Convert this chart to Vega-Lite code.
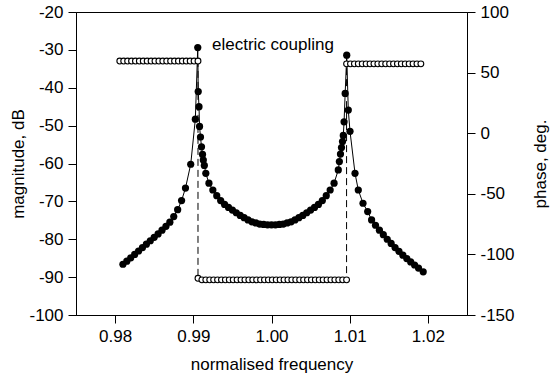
{
  "$schema": "https://vega.github.io/schema/vega-lite/v6.json",
  "width": 391,
  "height": 303,
  "autosize": {"type": "none"},
  "padding": {"left": 76, "top": 12, "right": 87, "bottom": 60},
  "background": "white",
  "config": {
    "view": {"stroke": "black", "strokeWidth": 1},
    "font": "Liberation Sans",
    "axis": {
      "domainColor": "black", "tickColor": "black", "labelColor": "black", "titleColor": "black",
      "labelFont": "Liberation Sans", "titleFont": "Liberation Sans",
      "labelFontSize": 17, "titleFontSize": 17, "titleFontWeight": "normal",
      "tickSize": 8, "grid": false, "labelPadding": 5
    }
  },
  "datasets": {
    "mag": [
      {"f": 0.9810, "mag": -86.6}, {"f": 0.9815, "mag": -85.8}, {"f": 0.9820, "mag": -84.9}, {"f": 0.9825, "mag": -84.0},
      {"f": 0.9830, "mag": -83.1}, {"f": 0.9835, "mag": -82.2}, {"f": 0.9840, "mag": -81.3}, {"f": 0.9845, "mag": -80.4},
      {"f": 0.9850, "mag": -79.5}, {"f": 0.9855, "mag": -78.6}, {"f": 0.9860, "mag": -77.6}, {"f": 0.9865, "mag": -76.6},
      {"f": 0.9870, "mag": -75.5}, {"f": 0.9875, "mag": -74.0}, {"f": 0.9880, "mag": -72.2}, {"f": 0.9885, "mag": -69.8},
      {"f": 0.9890, "mag": -66.5}, {"f": 0.98967, "mag": -60.2}, {"f": 0.99026, "mag": -48.3}, {"f": 0.99057, "mag": -29.4},
      {"f": 0.99063, "mag": -41.0}, {"f": 0.99073, "mag": -45.0}, {"f": 0.9908, "mag": -50.2}, {"f": 0.99092, "mag": -53.0},
      {"f": 0.99105, "mag": -55.6}, {"f": 0.99118, "mag": -57.6}, {"f": 0.99128, "mag": -59.1}, {"f": 0.99141, "mag": -60.5},
      {"f": 0.9916, "mag": -62.6}, {"f": 0.9920, "mag": -65.2}, {"f": 0.9925, "mag": -67.0}, {"f": 0.9930, "mag": -68.5},
      {"f": 0.9935, "mag": -69.8}, {"f": 0.9940, "mag": -70.8}, {"f": 0.9945, "mag": -71.6}, {"f": 0.9950, "mag": -72.3},
      {"f": 0.9955, "mag": -73.0}, {"f": 0.9960, "mag": -73.7}, {"f": 0.9965, "mag": -74.3}, {"f": 0.9970, "mag": -74.9},
      {"f": 0.9975, "mag": -75.4}, {"f": 0.9980, "mag": -75.7}, {"f": 0.9985, "mag": -76.0}, {"f": 0.9990, "mag": -76.1},
      {"f": 0.9995, "mag": -76.2}, {"f": 1.0000, "mag": -76.2}, {"f": 1.0005, "mag": -76.2}, {"f": 1.0010, "mag": -76.1},
      {"f": 1.0015, "mag": -76.0}, {"f": 1.0020, "mag": -75.7}, {"f": 1.0025, "mag": -75.4}, {"f": 1.0030, "mag": -74.9},
      {"f": 1.0035, "mag": -74.3}, {"f": 1.0040, "mag": -73.7}, {"f": 1.0045, "mag": -73.0}, {"f": 1.0050, "mag": -72.3},
      {"f": 1.0055, "mag": -71.6}, {"f": 1.0060, "mag": -70.8}, {"f": 1.0065, "mag": -69.8}, {"f": 1.0070, "mag": -68.5},
      {"f": 1.0075, "mag": -67.0}, {"f": 1.0080, "mag": -65.2}, {"f": 1.00854, "mag": -61.7}, {"f": 1.00868, "mag": -59.5},
      {"f": 1.00882, "mag": -57.5}, {"f": 1.00895, "mag": -55.8}, {"f": 1.00908, "mag": -54.2}, {"f": 1.00918, "mag": -52.6},
      {"f": 1.00928, "mag": -49.0}, {"f": 1.00942, "mag": -41.5}, {"f": 1.00962, "mag": -31.4}, {"f": 1.00982, "mag": -45.9},
      {"f": 1.01004, "mag": -51.5}, {"f": 1.01068, "mag": -62.6}, {"f": 1.0111, "mag": -67.0}, {"f": 1.0117, "mag": -70.5},
      {"f": 1.0123, "mag": -72.7}, {"f": 1.0128, "mag": -74.9}, {"f": 1.0133, "mag": -76.3}, {"f": 1.0138, "mag": -77.6},
      {"f": 1.0143, "mag": -78.8}, {"f": 1.0148, "mag": -80.0}, {"f": 1.0153, "mag": -81.1}, {"f": 1.0158, "mag": -82.2},
      {"f": 1.0163, "mag": -83.2}, {"f": 1.0168, "mag": -84.2}, {"f": 1.0173, "mag": -85.1}, {"f": 1.0178, "mag": -86.0},
      {"f": 1.0183, "mag": -86.8}, {"f": 1.0188, "mag": -87.6}, {"f": 1.0194, "mag": -88.6}
    ],
    "phase": [
      {"i": 1, "f": 0.9806, "phase": 59.5}, {"i": 2, "f": 0.9811, "phase": 59.5}, {"i": 3, "f": 0.9816, "phase": 59.5},
      {"i": 4, "f": 0.9821, "phase": 59.5}, {"i": 5, "f": 0.9826, "phase": 59.5}, {"i": 6, "f": 0.9831, "phase": 59.5},
      {"i": 7, "f": 0.9836, "phase": 59.5}, {"i": 8, "f": 0.9841, "phase": 59.5}, {"i": 9, "f": 0.9846, "phase": 59.5},
      {"i": 10, "f": 0.9851, "phase": 59.5}, {"i": 11, "f": 0.9856, "phase": 59.5}, {"i": 12, "f": 0.9861, "phase": 59.5},
      {"i": 13, "f": 0.9866, "phase": 59.5}, {"i": 14, "f": 0.9871, "phase": 59.5}, {"i": 15, "f": 0.9876, "phase": 59.5},
      {"i": 16, "f": 0.9881, "phase": 59.5}, {"i": 17, "f": 0.9886, "phase": 59.5}, {"i": 18, "f": 0.9891, "phase": 59.5},
      {"i": 19, "f": 0.9896, "phase": 59.5}, {"i": 20, "f": 0.9901, "phase": 59.5}, {"i": 21, "f": 0.9906, "phase": 59.5},
      {"i": 22, "f": 0.9906, "phase": -119.7}, {"i": 23, "f": 0.9911, "phase": -121}, {"i": 24, "f": 0.9916, "phase": -121},
      {"i": 25, "f": 0.9921, "phase": -121}, {"i": 26, "f": 0.9926, "phase": -121}, {"i": 27, "f": 0.9931, "phase": -121},
      {"i": 28, "f": 0.9936, "phase": -121}, {"i": 29, "f": 0.9941, "phase": -121}, {"i": 30, "f": 0.9946, "phase": -121},
      {"i": 31, "f": 0.9951, "phase": -121}, {"i": 32, "f": 0.9956, "phase": -121}, {"i": 33, "f": 0.9961, "phase": -121},
      {"i": 34, "f": 0.9966, "phase": -121}, {"i": 35, "f": 0.9971, "phase": -121}, {"i": 36, "f": 0.9976, "phase": -121},
      {"i": 37, "f": 0.9981, "phase": -121}, {"i": 38, "f": 0.9986, "phase": -121}, {"i": 39, "f": 0.9991, "phase": -121},
      {"i": 40, "f": 0.9996, "phase": -121}, {"i": 41, "f": 1.0001, "phase": -121}, {"i": 42, "f": 1.0006, "phase": -121},
      {"i": 43, "f": 1.0011, "phase": -121}, {"i": 44, "f": 1.0016, "phase": -121}, {"i": 45, "f": 1.0021, "phase": -121},
      {"i": 46, "f": 1.0026, "phase": -121}, {"i": 47, "f": 1.0031, "phase": -121}, {"i": 48, "f": 1.0036, "phase": -121},
      {"i": 49, "f": 1.0041, "phase": -121}, {"i": 50, "f": 1.0046, "phase": -121}, {"i": 51, "f": 1.0051, "phase": -121},
      {"i": 52, "f": 1.0056, "phase": -121}, {"i": 53, "f": 1.0061, "phase": -121}, {"i": 54, "f": 1.0066, "phase": -121},
      {"i": 55, "f": 1.0071, "phase": -121}, {"i": 56, "f": 1.0076, "phase": -121}, {"i": 57, "f": 1.0081, "phase": -121},
      {"i": 58, "f": 1.0086, "phase": -121}, {"i": 59, "f": 1.0091, "phase": -121}, {"i": 60, "f": 1.0096, "phase": -121},
      {"i": 61, "f": 1.0096, "phase": 57.2}, {"i": 62, "f": 1.0101, "phase": 57.2}, {"i": 63, "f": 1.0106, "phase": 57.2},
      {"i": 64, "f": 1.0111, "phase": 57.2}, {"i": 65, "f": 1.0116, "phase": 57.2}, {"i": 66, "f": 1.0121, "phase": 57.2},
      {"i": 67, "f": 1.0126, "phase": 57.2}, {"i": 68, "f": 1.0131, "phase": 57.2}, {"i": 69, "f": 1.0136, "phase": 57.2},
      {"i": 70, "f": 1.0141, "phase": 57.2}, {"i": 71, "f": 1.0146, "phase": 57.2}, {"i": 72, "f": 1.0151, "phase": 57.2},
      {"i": 73, "f": 1.0156, "phase": 57.2}, {"i": 74, "f": 1.0161, "phase": 57.2}, {"i": 75, "f": 1.0166, "phase": 57.2},
      {"i": 76, "f": 1.0171, "phase": 57.2}, {"i": 77, "f": 1.0176, "phase": 57.2}, {"i": 78, "f": 1.0181, "phase": 57.2},
      {"i": 79, "f": 1.0186, "phase": 57.2}, {"i": 80, "f": 1.0191, "phase": 57.2}
    ],
    "note": [{"f": 0.99239, "mag": -28.7, "label": "electric coupling"}]
  },
  "layer": [
    {
      "data": {"name": "mag"},
      "encoding": {
        "x": {"field": "f", "type": "quantitative", "scale": {"domain": [0.975, 1.025]},
              "axis": {"title": "normalised frequency", "values": [0.98, 0.99, 1.0, 1.01, 1.02], "format": ".2f", "titlePadding": 12}},
        "y": {"field": "mag", "type": "quantitative", "scale": {"domain": [-100, -20]},
              "axis": {"orient": "left", "title": "magnitude, dB", "values": [-100, -90, -80, -70, -60, -50, -40, -30, -20],
                       "labelExpr": "'' + datum.value", "titlePadding": 1}}
      },
      "layer": [
        {"mark": {"type": "line", "color": "black", "strokeWidth": 1}},
        {"mark": {"type": "circle", "color": "black", "size": 52, "opacity": 1}}
      ]
    },
    {
      "data": {"name": "phase"},
      "encoding": {
        "x": {"field": "f", "type": "quantitative", "scale": {"domain": [0.975, 1.025]}},
        "y": {"field": "phase", "type": "quantitative", "scale": {"domain": [-150, 100]},
              "axis": {"orient": "right", "title": "phase, deg.", "values": [-150, -100, -50, 0, 50, 100],
                       "labelExpr": "'' + datum.value", "titleAngle": 270, "titleBaseline": "top", "titlePadding": 18}},
        "order": {"field": "i", "type": "quantitative"}
      },
      "layer": [
        {"mark": {"type": "line", "color": "black", "strokeWidth": 1, "strokeDash": [7, 4]}},
        {"mark": {"type": "point", "shape": "circle", "filled": true, "fill": "white", "stroke": "black", "strokeWidth": 1.1, "size": 34, "opacity": 1}}
      ]
    },
    {
      "data": {"name": "note"},
      "mark": {"type": "text", "align": "left", "baseline": "middle", "font": "Liberation Sans", "fontSize": 17, "color": "black"},
      "encoding": {
        "x": {"field": "f", "type": "quantitative", "scale": {"domain": [0.975, 1.025]}},
        "y": {"field": "mag", "type": "quantitative", "scale": {"domain": [-100, -20]}, "axis": null},
        "text": {"field": "label"}
      }
    }
  ],
  "resolve": {"scale": {"y": "independent"}}
}
